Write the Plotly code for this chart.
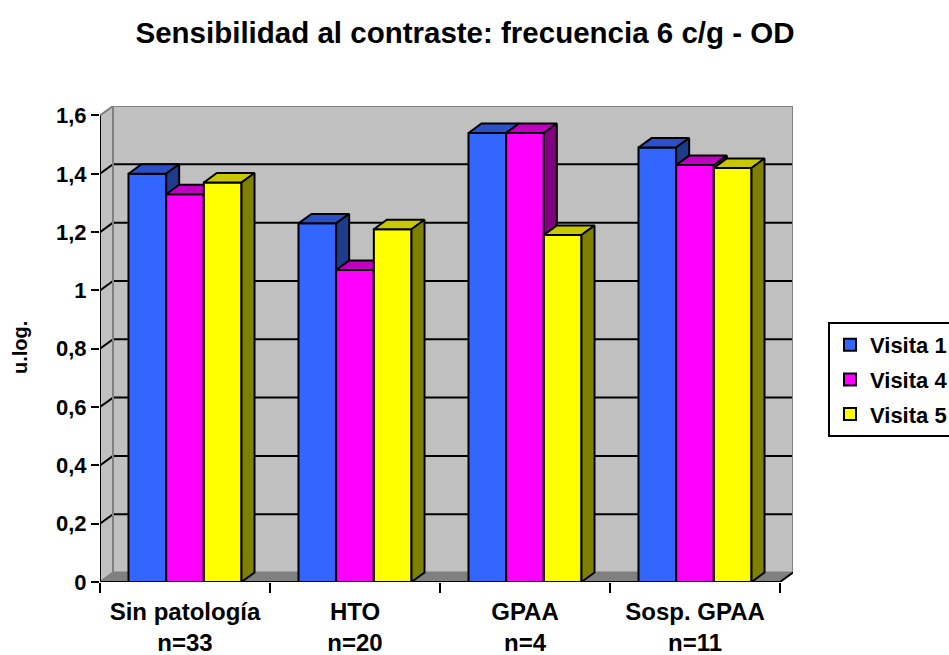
import plotly.graph_objects as go

# ---------------- data ----------------
categories = ["Sin patología<br>n=33", "HTO<br>n=20", "GPAA<br>n=4", "Sosp. GPAA<br>n=11"]
series_names = ["Visita 1", "Visita 4", "Visita 5"]
visita1 = [1.40, 1.23, 1.54, 1.49]
visita4 = [1.33, 1.07, 1.54, 1.43]
visita5 = [1.37, 1.21, 1.19, 1.42]
y_tick_values = [0, 0.2, 0.4, 0.6, 0.8, 1.0, 1.2, 1.4, 1.6]
y_tick_labels = ["0", "0,2", "0,4", "0,6", "0,8", "1", "1,2", "1,4", "1,6"]
title_text = "Sensibilidad al contraste: frecuencia 6 c/g - OD"
y_title = "u.log."

# ---------------- styles ----------------
series_values = [visita1, visita4, visita5]
front_colors = ["#3366FF", "#FF00FF", "#FFFF00"]
top_colors = ["#2B50C8", "#C000C0", "#C8C800"]
side_colors = ["#1E3C8C", "#800080", "#808000"]
FONT = "Liberation Sans, Arial, sans-serif"

N = len(categories)
Y_MAX = y_tick_values[-1]
DX = 13 / 170.0          # depth offset in x units
DY = 9.5 / 291.9         # depth offset in y units
BAR_W = 0.2216
offsets = [-1.5 * BAR_W, -0.5 * BAR_W, 0.5 * BAR_W]
xpos = list(range(N))
X0, X1 = -0.5, N - 0.5

fig = go.Figure()

for s, vals in enumerate(series_values):
    xa = "x" if s == 0 else f"x{s + 1}"
    ya = "y" if s == 0 else f"y{s + 1}"
    fig.add_trace(go.Bar(
        x=xpos, y=vals, width=BAR_W, offset=offsets[s],
        marker=dict(color=front_colors[s], line=dict(color="black", width=2)),
        name=series_names[s], legendgroup=series_names[s],
        xaxis=xa, yaxis=ya, hoverinfo="skip",
    ))
    for i, h in enumerate(vals):
        xl = xpos[i] + offsets[s]
        xr = xl + BAR_W
        # top face
        fig.add_trace(go.Scatter(
            x=[xl, xr, xr + DX, xl + DX, xl], y=[h, h, h + DY, h + DY, h],
            fill="toself", fillcolor=top_colors[s], mode="lines",
            line=dict(color="black", width=2), showlegend=False,
            hoverinfo="skip", xaxis=xa, yaxis=ya,
        ))
        # side face
        fig.add_trace(go.Scatter(
            x=[xr, xr, xr + DX, xr + DX, xr], y=[0, h, h + DY, DY, 0],
            fill="toself", fillcolor=side_colors[s], mode="lines",
            line=dict(color="black", width=2), showlegend=False,
            hoverinfo="skip", xaxis=xa, yaxis=ya,
        ))

shapes = []
# back wall
shapes.append(dict(type="rect", xref="x", yref="y", x0=X0 + DX, x1=X1 + DX, y0=DY, y1=Y_MAX + DY,
                   fillcolor="#C0C0C0", line=dict(width=0), layer="below"))
# left side wall
shapes.append(dict(type="path", xref="x", yref="y",
                   path=f"M {X0},0 L {X0},{Y_MAX} L {X0 + DX},{Y_MAX + DY} L {X0 + DX},{DY} Z",
                   fillcolor="#C0C0C0", line=dict(width=0), layer="below"))
# floor
shapes.append(dict(type="path", xref="x", yref="y",
                   path=f"M {X0},0 L {X1},0 L {X1 + DX},{DY} L {X0 + DX},{DY} Z",
                   fillcolor="#808080", line=dict(width=0), layer="below"))
# gridlines
for v in y_tick_values[1:-1]:
    shapes.append(dict(type="line", xref="x", yref="y", x0=X0 + DX, x1=X1 + DX, y0=v + DY, y1=v + DY,
                       line=dict(color="black", width=2), layer="below"))
    shapes.append(dict(type="line", xref="x", yref="y", x0=X0, x1=X0 + DX, y0=v, y1=v + DY,
                       line=dict(color="black", width=2), layer="below"))
# wall edges (gray)
g = dict(color="#808080", width=2)
shapes += [
    dict(type="line", xref="x", yref="y", x0=X0 + DX, x1=X1 + DX, y0=Y_MAX + DY, y1=Y_MAX + DY, line=g, layer="below"),
    dict(type="line", xref="x", yref="y", x0=X0, x1=X0 + DX, y0=Y_MAX, y1=Y_MAX + DY, line=g, layer="below"),
    dict(type="line", xref="x", yref="y", x0=X0 + DX, x1=X0 + DX, y0=DY, y1=Y_MAX + DY, line=g, layer="below"),
    dict(type="line", xref="x", yref="y", x0=X1 + DX, x1=X1 + DX, y0=DY, y1=Y_MAX + DY, line=g, layer="below"),
    dict(type="line", xref="x", yref="y", x0=X0 + DX, x1=X1 + DX, y0=DY, y1=DY, line=g, layer="below"),
    dict(type="line", xref="x", yref="y", x0=X0, x1=X0 + DX, y0=0, y1=DY, line=g, layer="below"),
    dict(type="line", xref="x", yref="y", x0=X1, x1=X1 + DX, y0=0, y1=DY,
         line=dict(color="black", width=2), layer="below"),
]
# front axis lines
shapes += [
    dict(type="line", xref="x", yref="y", x0=X0, x1=X0, y0=0, y1=Y_MAX, line=dict(color="black", width=2)),
    dict(type="line", xref="x", yref="y", x0=X0, x1=X1, y0=0, y1=0, line=dict(color="black", width=2)),
]

xr = [X0, X1 + DX]
yr = [0, Y_MAX + DY]
common_hidden = dict(range=xr, showgrid=False, zeroline=False, showline=False, fixedrange=True)

fig.update_layout(
    width=949, height=655,
    margin=dict(l=100, r=156, t=106, b=73, autoexpand=False),
    paper_bgcolor="white", plot_bgcolor="white",
    font=dict(family=FONT, color="black"),
    barmode="overlay",
    showlegend=True,
    title=dict(text=title_text, x=465 / 949, xanchor="center", xref="container",
               y=1 - 33 / 655, yanchor="middle", yref="container",
               font=dict(size=29.5, weight="bold", family=FONT, color="black")),
    xaxis=dict(range=xr, tickvals=[X0 + k for k in range(N + 1)], showticklabels=False,
               ticks="outside", ticklen=10, tickwidth=2, tickcolor="black",
               showgrid=False, zeroline=False, showline=False, fixedrange=True),
    yaxis=dict(range=yr, tickvals=y_tick_values, ticktext=y_tick_labels,
               ticks="outside", ticklen=8, tickwidth=2, tickcolor="black",
               tickfont=dict(size=22, weight="bold", family=FONT, color="black"),
               showgrid=False, zeroline=False, showline=False, fixedrange=True),
    xaxis2=dict(overlaying="x", anchor="y2", range=xr, tickvals=xpos, ticktext=categories,
                ticks="", ticklabelstandoff=13,
                tickfont=dict(size=24, weight="bold", family=FONT, color="black"),
                showgrid=False, zeroline=False, showline=False, fixedrange=True),
    yaxis2=dict(overlaying="y", anchor="x2", range=yr, visible=False, fixedrange=True),
    xaxis3=dict(overlaying="x", anchor="y3", visible=False, **common_hidden),
    yaxis3=dict(overlaying="y", anchor="x3", range=yr, visible=False, fixedrange=True),
    legend=dict(x=(828 - 100) / 693, xanchor="left", y=(582 - 322) / 476, yanchor="top",
                bgcolor="white", bordercolor="black", borderwidth=2, tracegroupgap=3,
                font=dict(size=22, weight="bold", family=FONT, color="black")),
    shapes=shapes,
    annotations=[dict(text=y_title, xref="paper", yref="paper", x=(20 - 100) / 693,
                      y=(582 - 348) / 476, xanchor="center", yanchor="middle", textangle=-90,
                      showarrow=False, font=dict(size=20, weight="bold", family=FONT, color="black"))],
)

fig.write_html("out.html")
